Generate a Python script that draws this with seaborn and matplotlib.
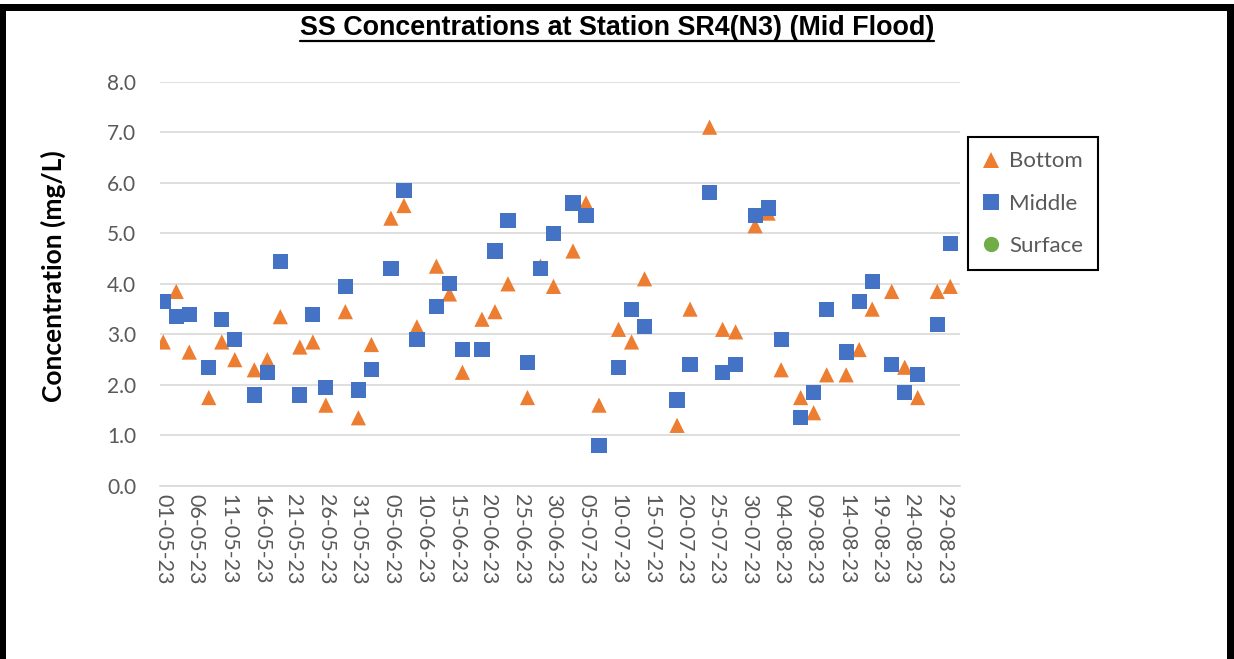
import matplotlib
matplotlib.use("Agg")
import matplotlib.pyplot as plt
import matplotlib.dates as mdates
from matplotlib.lines import Line2D
from matplotlib.patches import Rectangle
import pandas as pd
import seaborn as sns

# Sampling dates (dd-mm-yy)
sample_dates = [
    "01-05-23", "03-05-23", "05-05-23", "08-05-23", "10-05-23", "12-05-23",
    "15-05-23", "17-05-23", "19-05-23", "22-05-23", "24-05-23", "26-05-23",
    "29-05-23", "31-05-23", "02-06-23", "05-06-23", "07-06-23", "09-06-23",
    "12-06-23", "14-06-23", "16-06-23", "19-06-23", "21-06-23", "23-06-23",
    "26-06-23", "28-06-23", "30-06-23", "03-07-23", "05-07-23", "07-07-23",
    "10-07-23", "12-07-23", "14-07-23", "19-07-23", "21-07-23", "24-07-23",
    "26-07-23", "28-07-23", "31-07-23", "02-08-23", "04-08-23", "07-08-23",
    "09-08-23", "11-08-23", "14-08-23", "16-08-23", "18-08-23", "21-08-23",
    "23-08-23", "25-08-23", "28-08-23", "30-08-23",
]

# Suspended solids (mg/L) by sampling depth
bottom_ss = [
    2.85, 3.85, 2.65, 1.75, 2.85, 2.50, 2.30, 2.50, 3.35, 2.75, 2.85, 1.60,
    3.45, 1.35, 2.80, 5.30, 5.55, 3.15, 4.35, 3.80, 2.25, 3.30, 3.45, 4.00,
    1.75, 4.35, 3.95, 4.65, 5.60, 1.60, 3.10, 2.85, 4.10, 1.20, 3.50, 7.10,
    3.10, 3.05, 5.15, 5.40, 2.30, 1.75, 1.45, 2.20, 2.20, 2.70, 3.50, 3.85,
    2.35, 1.75, 3.85, 3.95,
]
middle_ss = [
    3.65, 3.35, 3.40, 2.35, 3.30, 2.90, 1.80, 2.25, 4.45, 1.80, 3.40, 1.95,
    3.95, 1.90, 2.30, 4.30, 5.85, 2.90, 3.55, 4.00, 2.70, 2.70, 4.65, 5.25,
    2.45, 4.30, 5.00, 5.60, 5.35, 0.80, 2.35, 3.50, 3.15, 1.70, 2.40, 5.80,
    2.25, 2.40, 5.35, 5.50, 2.90, 1.35, 1.85, 3.50, 2.65, 3.65, 4.05, 2.40,
    1.85, 2.20, 3.20, 4.80,
]
surface_ss = []  # no surface samples in this period

depth_names = ["Bottom", "Middle", "Surface"]
depth_colors = {"Bottom": "#ED7D31", "Middle": "#4472C4", "Surface": "#70AD47"}
depth_markers = {"Bottom": "^", "Middle": "s", "Surface": "o"}

y_ticks = [0, 1, 2, 3, 4, 5, 6, 7, 8]
title_text = "SS Concentrations at Station SR4(N3) (Mid Flood)"
y_label = "Concentration (mg/L)"

sns.set_theme(style="white")
plt.rcParams["font.family"] = ["Lato", "DejaVu Sans"]

W, H = 1234, 659
fig = plt.figure(figsize=(W / 100, H / 100), dpi=100)
fig.patch.set_facecolor("white")
ax = fig.add_axes([160 / W, 173 / H, 800 / W, 404.3 / H])

dates = pd.to_datetime(sample_dates, format="%d-%m-%y")
frames = []
for name, vals in (("Bottom", bottom_ss), ("Middle", middle_ss)):
    frames.append(pd.DataFrame({"Date": dates, "SS": vals, "Depth": name}))
df = pd.concat(frames, ignore_index=True)

sns.scatterplot(
    data=df, x="Date", y="SS", hue="Depth", style="Depth",
    hue_order=["Bottom", "Middle"], style_order=["Bottom", "Middle"],
    palette={k: depth_colors[k] for k in ("Bottom", "Middle")},
    markers={k: depth_markers[k] for k in ("Bottom", "Middle")},
    s=120, linewidth=0, legend=False, ax=ax, zorder=3,
)

# Axes ranges and ticks
ax.set_xlim(pd.Timestamp("2023-04-30 12:00"), pd.Timestamp("2023-08-31 12:00"))
ax.set_ylim(0, 8)
ax.set_yticks(y_ticks)
ax.set_yticklabels([f"{v:.1f}" for v in y_ticks])
ax.set_xticks(pd.date_range("2023-05-01", "2023-08-29", freq="5D"))
ax.xaxis.set_major_formatter(mdates.DateFormatter("%d-%m-%y"))
ax.tick_params(axis="x", length=0, pad=6, labelsize=15.5, labelcolor="#595959",
               labelrotation=-90)
ax.tick_params(axis="y", length=0, pad=17, labelsize=15, labelcolor="#595959")
for lbl in ax.get_xticklabels():
    lbl.set_verticalalignment("top")
    lbl.set_horizontalalignment("center")

ax.set_xlabel("")
ax.set_ylabel(y_label, fontsize=19, fontweight="bold", color="black")
ax.yaxis.set_label_coords(-0.1175, 0.52)

ax.grid(axis="y", color="#D9D9D9", linewidth=1.2)
ax.grid(axis="x", visible=False)
ax.set_axisbelow(True)
for side in ("left", "right", "top"):
    ax.spines[side].set_visible(False)
ax.spines["bottom"].set_color("#D9D9D9")
ax.spines["bottom"].set_linewidth(1.2)

# Legend (includes the depth without samples)
handles = [
    Line2D([], [], linestyle="none", marker=depth_markers[n], markersize=11,
           markerfacecolor=depth_colors[n], markeredgewidth=0)
    for n in depth_names
]
leg = ax.legend(
    handles, depth_names, loc="upper left",
    bbox_to_anchor=(968 / W, 1 - 137 / H), bbox_transform=fig.transFigure,
    frameon=True, fancybox=False, framealpha=1, edgecolor="black",
    fontsize=16, labelcolor="#595959", borderpad=0.65, labelspacing=1.0,
    handlelength=0.8, handletextpad=0.4, borderaxespad=0,
)
leg.get_frame().set_linewidth(1.5)

# Title with underline
title = fig.text(617 / W, 1 - 35 / H, title_text, ha="center", va="baseline",
                 fontsize=19.4, fontweight="bold", color="black",
                 family=["Liberation Sans", "DejaVu Sans"])
fig.canvas.draw()
bb = title.get_window_extent(fig.canvas.get_renderer())
uy = (H - 41) / H
fig.add_artist(Line2D([bb.x0 / W, bb.x1 / W], [uy, uy], color="black",
                      linewidth=1.6, transform=fig.transFigure))

# Outer frame (open at the bottom)
for (x0, y0, w, h) in ((0, 0, 6, H - 4), (W - 7, 0, 7, H - 4), (0, H - 11, W, 7)):
    fig.add_artist(Rectangle((x0 / W, y0 / H), w / W, h / H, facecolor="black",
                             edgecolor="none", transform=fig.transFigure))

fig.savefig("out.png", dpi=100)
